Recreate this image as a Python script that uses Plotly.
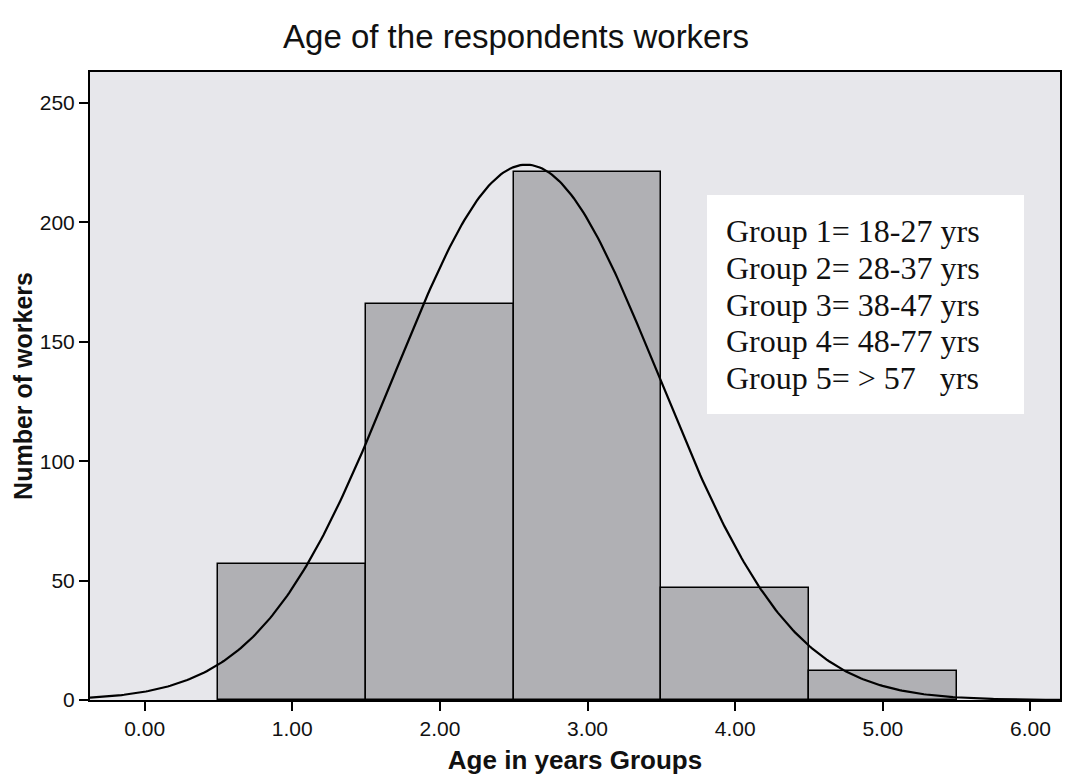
import numpy as np
import plotly.graph_objects as go

# ---- data ----
groups = [1, 2, 3, 4, 5]
workers = [57, 166, 221, 47, 12]
x_ticks = [0, 1, 2, 3, 4, 5, 6]
y_ticks = [0, 50, 100, 150, 200, 250]
legend_lines = [
    "Group 1= 18-27 yrs",
    "Group 2= 28-37 yrs",
    "Group 3= 38-47 yrs",
    "Group 4= 48-77 yrs",
    "Group 5= &gt; 57&nbsp;&nbsp; yrs",
]

# fitted normal curve (SPSS style) from the histogram counts
g = np.array(groups, dtype=float)
w = np.array(workers, dtype=float)
n_total = w.sum()
mean = (g * w).sum() / n_total
sd = np.sqrt(((g - mean) ** 2 * w).sum() / (n_total - 1))
x_range = [-0.37, 6.2]
xc = np.linspace(x_range[0], x_range[1], 400)
yc = n_total * 1.0 / (sd * np.sqrt(2 * np.pi)) * np.exp(-0.5 * ((xc - mean) / sd) ** 2)

# page body has an 8px margin; target screen positions are compensated
OFF = 8
W, H = 1076, 780
L, R, T, B = 90 - OFF, 16 + OFF, 72 - OFF, 80 + OFF
PW, PH = W - L - R, H - T - B


def px(xs):  # screen x -> paper
    return (xs - OFF - L) / PW


def py(ys):  # screen y -> paper
    return 1 - (ys - OFF - T) / PH


fig = go.Figure()
fig.add_trace(go.Bar(
    x=groups, y=workers, width=1.0,
    marker=dict(color="#b0b0b4", line=dict(color="black", width=1.5)),
    showlegend=False,
))
fig.add_trace(go.Scatter(
    x=xc, y=yc, mode="lines",
    line=dict(color="black", width=2.2),
    showlegend=False,
))

# white text box
fig.add_shape(type="rect", xref="paper", yref="paper",
              x0=px(707), x1=px(1024), y0=py(414), y1=py(195),
              fillcolor="white", line=dict(width=0), layer="above")
for i, txt in enumerate(legend_lines):
    ys = 231 + i * 36.8
    fig.add_annotation(xref="paper", yref="paper",
                       x=px(724), y=py(ys),
                       xanchor="left", yanchor="middle", showarrow=False,
                       text=txt,
                       font=dict(family="Liberation Serif", size=32, color="#111"))

fig.update_layout(
    width=W, height=H,
    margin=dict(l=L, r=R, t=T, b=B, autoexpand=False),
    paper_bgcolor="white",
    plot_bgcolor="#e7e7eb",
    bargap=0,
    title=dict(text="Age of the respondents workers",
               x=(516 - OFF) / W, y=1 - (36 - OFF) / H,
               xref="container", yref="container", xanchor="center", yanchor="middle",
               automargin=False,
               font=dict(family="Liberation Sans", size=33, color="#111")),
    font=dict(family="Liberation Sans", color="#111"),
)
fig.update_xaxes(
    range=x_range, tickvals=x_ticks, tickformat=".2f",
    ticks="outside", ticklen=9, tickwidth=2, tickcolor="black",
    showline=True, linecolor="black", linewidth=2, mirror=True,
    showgrid=False, zeroline=False, automargin=False,
    tickfont=dict(size=21, family="Liberation Sans"),
    title=dict(text="<b>Age in years Groups</b>", standoff=12,
               font=dict(size=26, family="Liberation Sans")),
)
fig.update_yaxes(
    range=[0, 263], tickvals=y_ticks,
    ticks="outside", ticklen=9, tickwidth=2, tickcolor="black",
    showline=True, linecolor="black", linewidth=2, mirror=True,
    showgrid=False, zeroline=False, automargin=False,
    tickfont=dict(size=21, family="Liberation Sans"),
    title=dict(text="<b>Number of workers</b>", standoff=0,
               font=dict(size=25, family="Liberation Sans")),
)

fig.write_html("out.html")
